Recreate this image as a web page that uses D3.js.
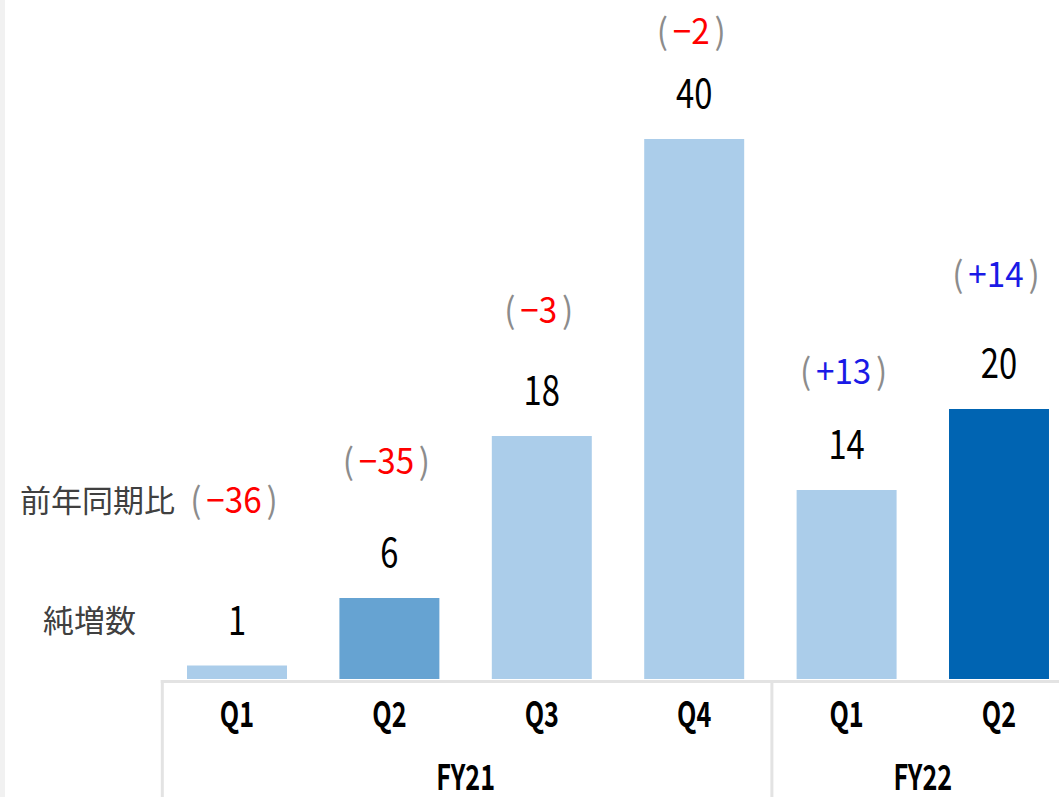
<!DOCTYPE html>
<html>
<head>
<meta charset="utf-8">
<script src="https://cdn.jsdelivr.net/npm/d3@7"></script>
<style>
  body { margin: 0; background: #fff; }
  svg { display: block; font-family: "Noto Sans CJK JP", "Noto Sans", sans-serif; }
</style>
</head>
<body>
<svg id="chart" width="1059" height="797"></svg>
<script>
// data
const quarters = ["Q1", "Q2", "Q3", "Q4", "Q1", "Q2"];
const fiscalYears = ["FY21", "FY21", "FY21", "FY21", "FY22", "FY22"];
const netAdds = [1, 6, 18, 40, 14, 20];
const yoyChange = [-36, -35, -3, -2, 13, 14];
const barColors = ["#abcdea", "#66a3d2", "#abcdea", "#abcdea", "#abcdea", "#0064b2"];
// how far above each bar top the YoY label centre sits (px)
const yoyLift = [165, 136, 125, 107, 118, 134];

const svg = d3.select("#chart");
const W = 1059, H = 797;
const baseY = 679;

// left edge strip
svg.append("rect").attr("x", 0).attr("y", 0).attr("width", 5).attr("height", H).attr("fill", "#f1f1f1");

const idx = d3.range(netAdds.length);
const x = d3.scaleBand()
  .domain(idx)
  .range([160.8, 1075.2])
  .paddingInner(0.344)
  .paddingOuter(0.172);

const y = d3.scaleLinear()
  .domain([0, 40])
  .range([baseY, 139]);

// bars
svg.selectAll(".bar")
  .data(idx)
  .enter()
  .append("rect")
  .attr("class", "bar")
  .attr("x", i => x(i))
  .attr("y", i => y(netAdds[i]))
  .attr("width", x.bandwidth())
  .attr("height", i => y(0) - y(netAdds[i]))
  .attr("fill", i => barColors[i]);

// axis lines
const axisColor = "#e3e3e3";
const x0 = x.range()[0];
svg.append("line")
  .attr("x1", x0).attr("x2", W)
  .attr("y1", baseY + 2.5).attr("y2", baseY + 2.5)
  .attr("stroke", axisColor).attr("stroke-width", 3);

// group separators
const groups = Array.from(d3.group(idx, i => fiscalYears[i]), ([k, v]) => ({ name: k, first: v[0], last: v[v.length - 1] }));
const step = x.step();
groups.forEach(g => {
  const gx = x0 + g.first * step;
  svg.append("line")
    .attr("x1", gx + 1.5).attr("x2", gx + 1.5)
    .attr("y1", baseY + 1).attr("y2", H)
    .attr("stroke", axisColor).attr("stroke-width", 3);
});

// condensed text helper
function condensed(sel, cx, cy, sx) {
  return sel.attr("transform", `translate(${cx},${cy}) scale(${sx},1)`);
}

// quarter labels
idx.forEach(i => {
  condensed(svg.append("text"), x(i) + x.bandwidth() / 2, 727, 0.72)
    .attr("text-anchor", "middle")
    .style("font-size", "35px")
    .style("font-weight", "bold")
    .attr("fill", "#000")
    .text(quarters[i]);
});

// fiscal year labels
groups.forEach(g => {
  const cx = x0 + (g.first + (g.last + 1)) / 2 * step;
  condensed(svg.append("text"), cx, 790, 0.72)
    .attr("text-anchor", "middle")
    .style("font-size", "35px")
    .style("font-weight", "bold")
    .attr("fill", "#000")
    .text(g.name);
});

// value labels
idx.forEach(i => {
  condensed(svg.append("text"), x(i) + x.bandwidth() / 2, y(netAdds[i]) - 31, 0.82)
    .attr("text-anchor", "middle")
    .style("font-size", "40px")
    .attr("fill", "#000")
    .text(netAdds[i]);
});

// YoY labels
idx.forEach(i => {
  const v = yoyChange[i];
  const t = condensed(svg.append("text"), x(i) + x.bandwidth() / 2 - 3, y(netAdds[i]) - yoyLift[i] + 12, 0.95)
    .attr("text-anchor", "middle")
    .style("font-size", "35px");
  t.append("tspan").attr("fill", "#8c8c8c").text("(");
  t.append("tspan").attr("fill", v < 0 ? "#ff0000" : "#1a1ae6").attr("dx", 5).text((v < 0 ? "\u2212" : "+") + Math.abs(v));
  t.append("tspan").attr("fill", "#8c8c8c").attr("dx", 5).text(")");
});

// row titles
svg.append("text")
  .attr("x", 175).attr("y", 512)
  .attr("text-anchor", "end")
  .style("font-size", "31px")
  .attr("fill", "#404040")
  .text("前年同期比");

svg.append("text")
  .attr("x", 136).attr("y", 632)
  .attr("text-anchor", "end")
  .style("font-size", "31px")
  .attr("fill", "#404040")
  .text("純増数");
</script>
</body>
</html>
